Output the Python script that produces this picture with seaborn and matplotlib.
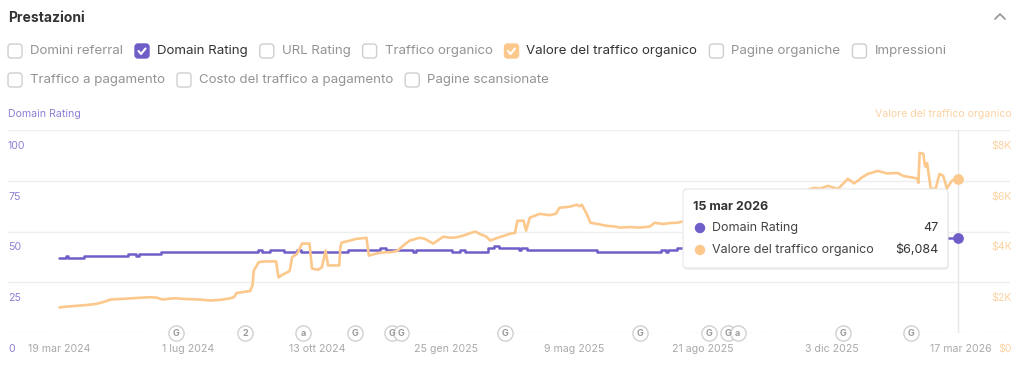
import numpy as np
import pandas as pd
import seaborn as sns
import matplotlib.pyplot as plt
from matplotlib.patches import FancyBboxPatch, Circle
from matplotlib.lines import Line2D
from matplotlib.transforms import IdentityTransform

# Domain Rating (step series)
dr_dates = ["2024-03-19", "2024-03-24", "2024-03-26", "2024-04-08", "2024-05-13", "2024-05-20",
            "2024-05-22", "2024-06-09", "2024-08-26", "2024-08-30", "2024-09-05", "2024-09-16",
            "2024-09-27", "2024-09-30", "2024-11-07", "2024-12-03", "2024-12-08", "2024-12-30",
            "2025-01-01", "2025-01-30", "2025-02-06", "2025-02-10", "2025-02-28", "2025-03-05",
            "2025-03-09", "2025-03-25", "2025-03-27", "2025-04-01", "2025-05-27", "2025-07-18",
            "2025-07-22", "2025-07-24", "2025-07-31", "2025-09-04", "2025-10-14", "2025-11-24",
            "2026-01-03", "2026-01-28", "2026-03-15"]
dr_values = [37, 38, 37, 38, 39, 38, 39, 40, 41, 40, 41, 40, 41, 40, 41, 42, 41, 40, 41, 40,
             41, 40, 42, 43, 42, 41, 42, 41, 40, 41, 40, 41, 42, 43, 44, 45, 46, 47, 47]

# Valore del traffico organico ($)
vt_dates = ["2024-03-19", "2024-03-27", "2024-04-07", "2024-04-17", "2024-04-25", "2024-04-29",
            "2024-05-11", "2024-05-17", "2024-05-31", "2024-06-06", "2024-06-10", "2024-06-20",
            "2024-06-28", "2024-07-10", "2024-07-19", "2024-07-28", "2024-08-04", "2024-08-07",
            "2024-08-09", "2024-08-16", "2024-08-20", "2024-08-22", "2024-08-23", "2024-08-27",
            "2024-09-01", "2024-09-10", "2024-09-12", "2024-09-15", "2024-09-17", "2024-09-21",
            "2024-09-23", "2024-09-27", "2024-10-01", "2024-10-07", "2024-10-09", "2024-10-14",
            "2024-10-17", "2024-10-20", "2024-10-22", "2024-10-31", "2024-11-01", "2024-11-02",
            "2024-11-09", "2024-11-14", "2024-11-19", "2024-11-22", "2024-11-24", "2024-12-01",
            "2024-12-05", "2024-12-13", "2024-12-17", "2024-12-23", "2024-12-27", "2025-01-04",
            "2025-01-08", "2025-01-15", "2025-01-23", "2025-01-29", "2025-02-03", "2025-02-08",
            "2025-02-15", "2025-02-18", "2025-02-22", "2025-02-27", "2025-03-02", "2025-03-08",
            "2025-03-14", "2025-03-18", "2025-03-22", "2025-03-24", "2025-03-29", "2025-03-31",
            "2025-04-03", "2025-04-11", "2025-04-19", "2025-04-24", "2025-04-27", "2025-05-05",
            "2025-05-11", "2025-05-13", "2025-05-15", "2025-05-19", "2025-05-22", "2025-05-27",
            "2025-06-04", "2025-06-11", "2025-06-15", "2025-06-23", "2025-07-01", "2025-07-09",
            "2025-07-13", "2025-07-20", "2025-07-25", "2025-07-31", "2025-08-05", "2025-08-19",
            "2025-09-04", "2025-09-20", "2025-10-06", "2025-10-23", "2025-11-08", "2025-11-18",
            "2025-11-24", "2025-11-30", "2025-12-08", "2025-12-12", "2025-12-16", "2025-12-21",
            "2025-12-24", "2025-12-27", "2026-01-01", "2026-01-09", "2026-01-17", "2026-01-25",
            "2026-01-30", "2026-02-07", "2026-02-10", "2026-02-11", "2026-02-12", "2026-02-15",
            "2026-02-16", "2026-02-17", "2026-02-18", "2026-02-20", "2026-02-21", "2026-02-25",
            "2026-02-28", "2026-03-03", "2026-03-06", "2026-03-10", "2026-03-13", "2026-03-15"]
vt_values = [1020, 1060, 1100, 1150, 1250, 1330, 1360, 1380, 1420, 1400,
             1330, 1380, 1350, 1330, 1290, 1320, 1380, 1420, 1580, 1640,
             1660, 1900, 2470, 2800, 2830, 2830, 2200, 2300, 2350, 2450,
             3000, 3130, 3530, 3530, 2550, 2500, 2600, 3250, 2670, 2670,
             3400, 3570, 3650, 3720, 3740, 3760, 3060, 3150, 3180, 3200,
             3250, 3500, 3650, 3760, 3720, 3530, 3800, 3760, 3780, 3840,
             3960, 4000, 3900, 3800, 3650, 3760, 3850, 3920, 3950, 4430,
             4430, 4040, 4550, 4700, 4650, 4700, 4940, 4980, 5060, 5000,
             5060, 4700, 4350, 4310, 4230, 4200, 4160, 4180, 4160, 4200,
             4350, 4300, 4340, 4350, 4400, 4500, 4650, 4800, 5000, 5300,
             5550, 5720, 5700, 5800, 5680, 5880, 6080, 5900, 6000, 6120,
             6270, 6390, 6290, 6310, 6190, 6120, 6100, 5920, 7100, 7060,
             6660, 6550, 6700, 6000, 5680, 5700, 6270, 6200, 5700, 6000,
             6080, 6084]

x_tick_dates = ["2024-03-19", "2024-07-01", "2024-10-13", "2025-01-25",
                "2025-05-09", "2025-08-21", "2025-12-03", "2026-03-17"]
x_tick_labels = ["19 mar 2024", "1 lug 2024", "13 ott 2024", "25 gen 2025",
                 "9 mag 2025", "21 ago 2025", "3 dic 2025", "17 mar 2026"]
dr_ticks = [0, 25, 50, 75, 100]
vt_tick_labels = ["$0", "$2K", "$4K", "$6K", "$8K"]

event_dates = ["2024-06-21", "2024-08-16", "2024-10-02", "2024-11-13", "2024-12-13", "2024-12-20",
               "2025-03-14", "2025-07-01", "2025-08-26", "2025-09-10", "2025-09-18", "2025-12-12",
               "2026-02-05"]
event_labels = ["G", "2", "a", "G", "G", "G", "G", "G", "G", "G", "a", "G", "G"]

options_row1 = ["Domini referral", "Domain Rating", "URL Rating", "Traffico organico",
                "Valore del traffico organico", "Pagine organiche", "Impressioni"]
options_row2 = ["Traffico a pagamento", "Costo del traffico a pagamento", "Pagine scansionate"]

hover_date = "2026-03-15"
hover_dr = "47"
hover_vt = "$6,084"

PURPLE = "#6e5ec8"
PURPLE_TXT = "#8b80d6"
ORANGE = "#fcc88c"
ORANGE_TXT = "#fcd2a2"
checked = {"Domain Rating": PURPLE, "Valore del traffico organico": ORANGE}

sns.set_theme(style="white")
plt.rcParams["font.family"] = ["Inter", "DejaVu Sans"]

W, H = 1024, 368
fig = plt.figure(figsize=(W / 100, H / 100), dpi=100)
fig.patch.set_facecolor("white")


def fx(x):
    return x / W


def fy(y):
    return 1 - y / H


ax = fig.add_axes([fx(8), fy(333.3), (1010 - 8) / W, (333.3 - 130) / H])
ax2 = ax.twinx()

dr = pd.DataFrame({"date": pd.to_datetime(dr_dates), "value": dr_values})
vt = pd.DataFrame({"date": pd.to_datetime(vt_dates), "value": vt_values})

sns.lineplot(data=dr, x="date", y="value", ax=ax, color=PURPLE, lw=1.8,
             drawstyle="steps-post", estimator=None, zorder=3)
sns.lineplot(data=vt, x="date", y="value", ax=ax2, color=ORANGE, lw=1.9,
             estimator=None, zorder=3)

start = pd.Timestamp("2024-03-19")
ax.set_xlim(start - pd.Timedelta(days=41.6), start + pd.Timedelta(days=768))
ax.set_ylim(0, 100)
ax2.set_ylim(0, 8000)

for a in (ax, ax2):
    for s in a.spines.values():
        s.set_visible(False)
    a.set_yticks([])
    a.set_xlabel("")
    a.set_ylabel("")

for v in dr_ticks[1:]:
    ax.axhline(v, color="#eeeeee", lw=1, zorder=0)
ax.axhline(0, color="#e2e2e2", lw=1, ls=(0, (1.5, 1.5)), zorder=0)

ax.set_xticks(pd.to_datetime(x_tick_dates))
ax.set_xticklabels(x_tick_labels)
ax.tick_params(axis="x", length=0, pad=7.5, labelsize=7.6, labelcolor="#a9a9a9")

# y labels sit under their grid lines
for v in dr_ticks:
    ax.annotate(str(v), xy=(0, v), xycoords=ax.get_yaxis_transform(),
                xytext=(0, -11.3), textcoords="offset points", va="center", ha="left",
                color=PURPLE_TXT, fontsize=7.6)
for v, lbl in zip(dr_ticks, vt_tick_labels):
    ax2.annotate(lbl, xy=(1, v * 80), xycoords=ax2.get_yaxis_transform(),
                 xytext=(1.5, -11.3), textcoords="offset points", va="center", ha="right",
                 color=ORANGE_TXT, fontsize=7.6)

fig.text(fx(8), fy(114), "Domain Rating", color=PURPLE_TXT, fontsize=7.6, va="center")
fig.text(fx(1012), fy(114), "Valore del traffico organico", color=ORANGE_TXT,
         fontsize=7.6, va="center", ha="right")

hd = pd.Timestamp(hover_date)
ax.axvline(hd, color="#e6e6e6", lw=1, zorder=1)
ax.scatter([hd], [dr_values[-1]], s=45, color=PURPLE, zorder=5)
ax2.scatter([hd], [vt_values[-1]], s=45, color=ORANGE, zorder=5)

ev = pd.to_datetime(event_dates)
ax.scatter(ev, [0] * len(ev), s=120, facecolor="white", edgecolor="#d0d0d0", lw=1,
           clip_on=False, zorder=4)
for d, lbl in zip(ev, event_labels):
    ax.text(d, 0, lbl, ha="center", va="center", fontsize=6.5, color="#9a9a9a",
            fontweight="bold", clip_on=False, zorder=5)

# header
fig.text(fx(8), fy(18), "Prestazioni", fontsize=10, fontweight="bold", color="#333333", va="center")
fig.add_artist(Line2D([995, 1000, 1005], [H - 19, H - 14, H - 19], color="#9a9a9a", lw=1.3,
                      transform=IdentityTransform()))

renderer = fig.canvas.get_renderer()


def draw_option(x, y, label):
    col = checked.get(label)
    box = FancyBboxPatch((x, H - y - 7), 14, 14, boxstyle="round,pad=0,rounding_size=3",
                         fc=col if col else "white", ec=col if col else "#cfcfcf", lw=1,
                         transform=IdentityTransform())
    fig.add_artist(box)
    if col:
        fig.add_artist(Line2D([x + 3.5, x + 6, x + 10.5], [H - y, H - y - 3, H - y + 2.5],
                              color="white", lw=1.5, transform=IdentityTransform()))
    t = fig.text(fx(x + 22), fy(y), label, fontsize=9.55, va="center",
                 color="#333333" if col else "#939393")
    return t.get_window_extent(renderer).x1 + 12


for row, y in ((options_row1, 51), (options_row2, 80)):
    x = 8
    for lbl in row:
        x = draw_option(x, y, lbl)

# tooltip
shadow = FancyBboxPatch((684, H - 270), 265, 79, boxstyle="round,pad=0,rounding_size=4",
                        fc="#000000", ec="none", alpha=0.06, transform=IdentityTransform(), zorder=9)
tip = FancyBboxPatch((683, H - 268), 265, 79, boxstyle="round,pad=0,rounding_size=4",
                     fc="white", ec="#e6e6e6", lw=0.8, transform=IdentityTransform(), zorder=10)
fig.add_artist(shadow)
fig.add_artist(tip)
fig.text(fx(693), fy(207), "15 mar 2026", fontsize=9, fontweight="bold", color="#333333",
         va="center", zorder=11)
for yy, col, name, val in ((228, PURPLE, "Domain Rating", hover_dr),
                           (250, ORANGE, "Valore del traffico organico", hover_vt)):
    fig.add_artist(Circle((700, H - yy), 4.5, color=col, transform=IdentityTransform(), zorder=11))
    fig.text(fx(712), fy(yy), name, fontsize=9, color="#444444", va="center", zorder=11)
    fig.text(fx(938), fy(yy), val, fontsize=9, color="#333333", va="center", ha="right", zorder=11)

fig.savefig("out.png", dpi=100, facecolor="white")
